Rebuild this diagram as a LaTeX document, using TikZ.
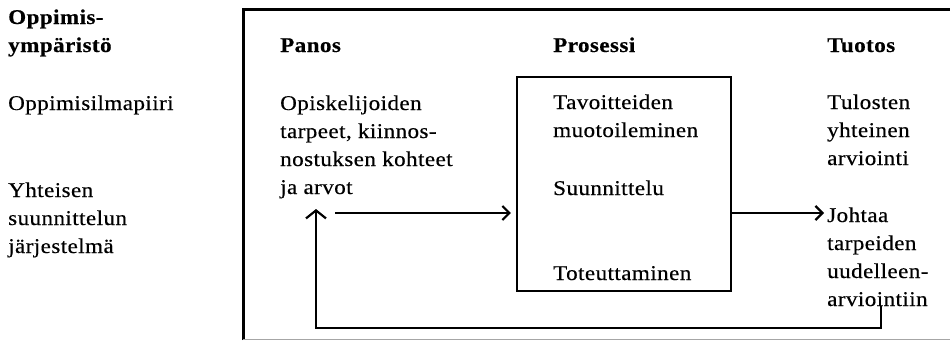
\documentclass[tikz,border=0pt]{standalone}
\usepackage{fontspec}
\setmainfont{Liberation Serif}[FakeStretch=1.1,LetterSpace=2,FakeBold=0.4]
\usetikzlibrary{arrows.meta,positioning}

\begin{document}
\begin{tikzpicture}[x=1pt, y=-1pt,
    txt/.style={inner sep=0pt, anchor=base west, align=left, font=\fontsize{21}{28}\selectfont},
    head/.style={txt, font=\fontsize{21}{28}\selectfont\bfseries},
    frame/.style={draw, line width=3pt},
    procbox/.style={draw, line width=2.2pt, minimum width=214pt, minimum height=214pt, inner sep=0pt},
    flow/.style={line width=2.2pt, -{Straight Barb[length=7pt,width=14pt]}},
    backflow/.style={flow, -{Straight Barb[length=8pt,width=20pt]}}
  ]
    \useasboundingbox (0,0) rectangle (950,341);

    % outer frame (runs off the right edge)
    \draw[frame] (243,340) -- (243,9) -- (970,9);
    \draw[line width=0.8pt, black!35] (243,339.6) -- (970,339.6);

    % multi-line texts sit on the baseline of their last line
    \node[head] (envhead) at (8,52) {Oppimis-\\ympäristö};
    \node[txt] (circle) at (8,110) {Oppimisilmapiiri};
    \node[txt] (system) at (8,253) {Yhteisen\\suunnittelun\\järjestelmä};

    \node[head] (inhead) at (280,52) {Panos};
    \node[head] (prochead) at (553,52) {Prosessi};
    \node[head] (outhead) at (827,52) {Tuotos};

    \node[txt] (needs) at (280,194) {Opiskelijoiden\\tarpeet, kiinnos-\\nostuksen kohteet\\ja arvot};

    \node[procbox] (process) at (624,184) {};
    \node[txt] (goals) at (553,137) {Tavoitteiden\\muotoileminen};
    \node[txt] (planning) at (553,195) {Suunnittelu};
    \node[txt] (doing) at (553,280) {Toteuttaminen};

    \node[txt] (evaluation) at (827,165) {Tulosten\\yhteinen\\arviointi};
    \node[txt] (reassess) at (827,306) {Johtaa\\tarpeiden\\uudelleen-\\arviointiin};

    \coordinate (inflow) at (335,213);
    \coordinate (loopcorner) at (316,328);

    \draw[flow, shorten >=5pt] (inflow) -- (process.west |- inflow);
    \draw[flow, shorten >=3pt] (process.east |- inflow) -- (reassess.west |- inflow);
    \draw[backflow] ([xshift=3pt]reassess.south) -- ([xshift=3pt]reassess.south |- loopcorner) -- (loopcorner) -- (loopcorner |- 0,209);
\end{tikzpicture}
\end{document}
